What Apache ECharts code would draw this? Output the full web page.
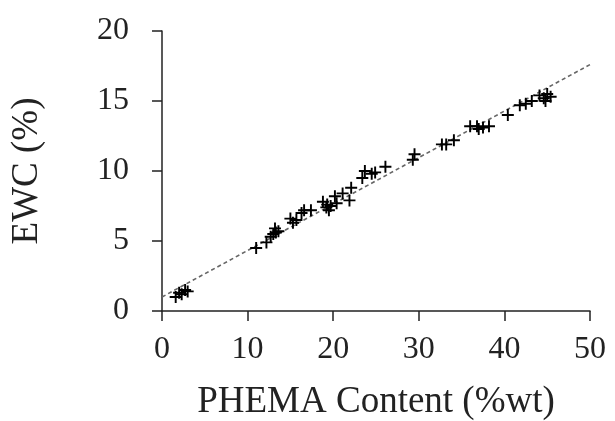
<!DOCTYPE html>
<html>
<head>
<meta charset="utf-8">
<script src="https://cdn.jsdelivr.net/npm/echarts@6/dist/echarts.min.js"></script>
<style>
html,body{margin:0;padding:0;background:#fff;}
#chart{width:615px;height:421px;}
</style>
</head>
<body>
<div id="chart"></div>
<script>
var phemaContent = [1.6, 2.0, 2.3, 2.7, 3.0, 11.0, 12.2, 12.7, 13.0, 13.3, 13.6, 13.2, 15.0, 15.3, 15.7, 16.3, 16.6, 17.4, 18.8, 19.2, 19.5, 19.7, 19.3, 20.2, 20.4, 21.1, 21.9, 22.1, 23.4, 23.7, 24.5, 24.9, 26.1, 29.3, 29.5, 32.7, 33.2, 34.1, 36.0, 36.8, 37.5, 38.2, 37.0, 40.4, 41.8, 42.5, 43.2, 44.1, 44.6, 45.0, 45.4, 44.8];
var ewcValues =    [1.0, 1.3, 1.2, 1.5, 1.4, 4.5, 4.9, 5.3, 5.5, 5.6, 5.7, 5.9, 6.6, 6.3, 6.5, 7.0, 7.2, 7.2, 7.8, 7.4, 7.2, 7.5, 7.6, 8.2, 7.7, 8.4, 7.9, 8.8, 9.5, 10.0, 9.8, 9.9, 10.3, 10.8, 11.2, 11.9, 11.9, 12.2, 13.2, 13.2, 13.1, 13.2, 13.0, 14.0, 14.7, 14.8, 15.0, 15.4, 15.2, 15.5, 15.3, 15.0];
var fitX = [0, 50];
var fitY = [1.0, 17.6];
var xTicks = [0, 10, 20, 30, 40, 50];
var yTicks = [0, 5, 10, 15, 20];

var points = phemaContent.map(function (x, i) { return [x, ewcValues[i]]; });
var fitLine = fitX.map(function (x, i) { return [x, fitY[i]]; });

var font = 'Liberation Serif';
var chart = echarts.init(document.getElementById('chart'));
chart.setOption({
  animation: false,
  backgroundColor: '#fff',
  grid: { left: 162, right: 25, top: 31, bottom: 110, containLabel: false, outerBoundsMode: 'none' },
  xAxis: {
    type: 'value', min: xTicks[0], max: xTicks[xTicks.length - 1], interval: 10,
    name: 'PHEMA Content (%wt)', nameLocation: 'middle', nameGap: 73,
    nameTextStyle: { fontFamily: font, fontSize: 37, color: '#222' },
    axisLine: { onZero: false, lineStyle: { color: '#222', width: 1.5 } },
    axisTick: { length: 10, lineStyle: { color: '#222', width: 1.5 } },
    axisLabel: { fontFamily: font, fontSize: 32, color: '#222', margin: 23 },
    splitLine: { show: false }
  },
  yAxis: {
    type: 'value', min: yTicks[0], max: yTicks[yTicks.length - 1], interval: 5,
    name: 'EWC (%)', nameLocation: 'middle', nameGap: 116, nameRotate: 90,
    nameTextStyle: { fontFamily: font, fontSize: 37, color: '#222' },
    axisLine: { show: true, onZero: false, lineStyle: { color: '#222', width: 1.5 } },
    axisTick: { show: true, length: 10, lineStyle: { color: '#222', width: 1.5 } },
    axisLabel: { fontFamily: font, fontSize: 32, color: '#222', margin: 33 },
    splitLine: { show: false }
  },
  series: [
    {
      type: 'line', data: fitLine, symbol: 'none', silent: true, z: 1,
      lineStyle: { color: '#666', width: 1.6, type: [4, 3] }
    },
    {
      type: 'scatter', data: points, z: 2,
      symbol: 'path://M4.2,0H5.8V4.2H10V5.8H5.8V10H4.2V5.8H0V4.2H4.2Z',
      symbolSize: 12,
      itemStyle: { color: '#000', opacity: 1 }
    }
  ]
});
</script>
</body>
</html>
